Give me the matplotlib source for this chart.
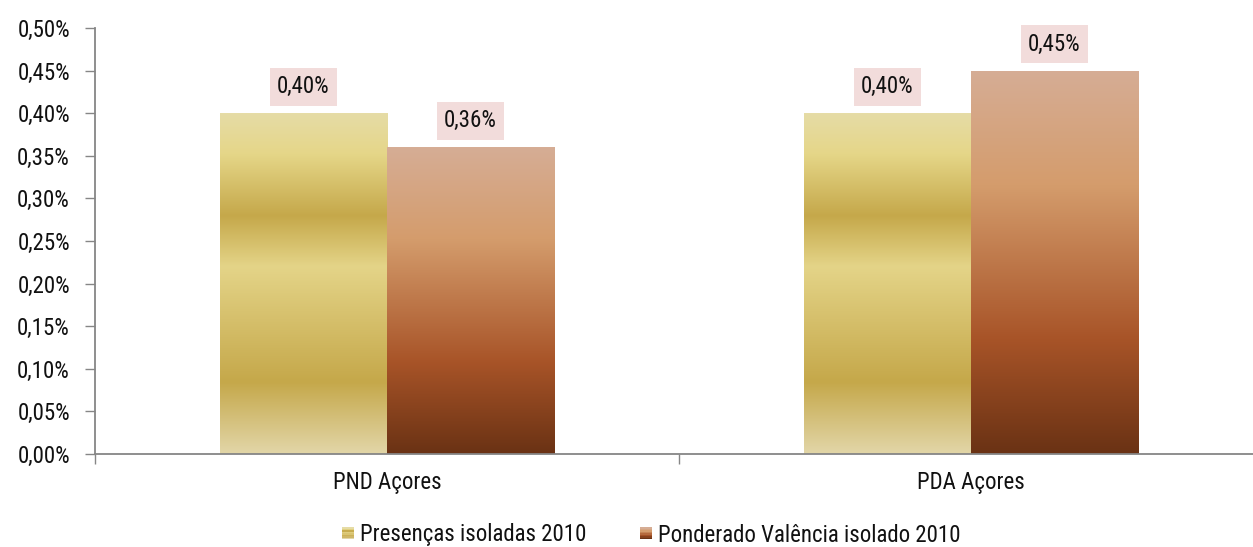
import matplotlib
matplotlib.use("Agg")
import matplotlib.pyplot as plt
import numpy as np
from matplotlib.colors import LinearSegmentedColormap
from matplotlib.patches import Rectangle
from matplotlib.legend_handler import HandlerBase
from matplotlib.ticker import FixedLocator, FuncFormatter

plt.rcParams['font.family'] = ['Roboto Condensed', 'Liberation Sans Narrow', 'DejaVu Sans']

categories = ["PND Açores", "PDA Açores"]
series_names = ["Presenças isoladas 2010", "Ponderado Valência isolado 2010"]
presencas = [0.40, 0.40]
ponderado = [0.36, 0.45]
values = [presencas, ponderado]

gold_stops = [(0.0, "#e6dca6"), (0.12, "#e5d688"), (0.30, "#c5a84a"), (0.45, "#e4d488"),
              (0.79, "#c5a84a"), (1.0, "#e2d6a8")]
brown_stops = [(0.0, "#d6ad95"), (0.30, "#d49c6c"), (0.70, "#a85428"), (1.0, "#6a3214")]
cmaps = [LinearSegmentedColormap.from_list("gold", gold_stops),
         LinearSegmentedColormap.from_list("brown", brown_stops)]

FS = 16.5
TXT = "#111111"

fig = plt.figure(figsize=(12.53, 5.47), dpi=100)
ax = fig.add_axes([95/1253, 1-454/547, (1263-95)/1253, (454-28)/547])

x = np.arange(len(categories))
width = 0.286
offsets = [-width/2, width/2]
grad = np.linspace(0, 1, 256).reshape(-1, 1)

for s in range(2):
    bars = ax.bar(x + offsets[s], values[s], width, color="none", edgecolor="none")
    for b, v in zip(bars, values[s]):
        x0 = b.get_x(); w = b.get_width(); h = b.get_height()
        im = ax.imshow(grad, cmap=cmaps[s], aspect="auto",
                       extent=[x0, x0 + w, 0, h], origin="upper", zorder=2,
                       interpolation="bilinear")
        im.set_clip_path(b)
        ax.text(x0 + w/2, h + 0.0175, f"{v:.2f}%".replace(".", ","),
                ha="center", va="bottom", fontsize=FS, color=TXT, zorder=4,
                bbox=dict(boxstyle="square,pad=0.32", facecolor="#f2dcdb", edgecolor="none"))

ax.set_xlim(-0.5, len(categories) - 0.5)
ax.set_ylim(0, 0.50)
ax.yaxis.set_major_locator(FixedLocator(np.arange(0, 0.501, 0.05)))
ax.yaxis.set_major_formatter(FuncFormatter(lambda v, p: f"{v:.2f}%".replace(".", ",")))
ax.set_xticks(x)
ax.set_xticklabels(categories)
ax.xaxis.set_minor_locator(FixedLocator([-0.5, 0.5, 1.5]))
ax.tick_params(axis="x", which="major", length=0, pad=12, labelsize=FS, labelcolor=TXT)
ax.tick_params(axis="x", which="minor", length=7, color="#868686", width=1)
ax.tick_params(axis="y", length=7, color="#868686", width=1, labelsize=FS, pad=11, labelcolor=TXT)

for sp in ["top", "right"]:
    ax.spines[sp].set_visible(False)
for sp in ["left", "bottom"]:
    ax.spines[sp].set_color("#868686")
    ax.spines[sp].set_linewidth(1.3)


class GradHandler(HandlerBase):
    def __init__(self, cmap):
        super().__init__()
        self.cmap = cmap

    def create_artists(self, legend, orig_handle, xdescent, ydescent, width, height, fontsize, trans):
        n = 8
        size = 12 * 72 / 100
        x0 = width - size
        y0 = (height - size) / 2
        arts = []
        for i in range(n):
            c = self.cmap(i / (n - 1))
            r = Rectangle((x0 - xdescent, y0 - ydescent + size * (n - 1 - i) / n), size, size / n,
                          facecolor=c, edgecolor="none", transform=trans)
            arts.append(r)
        return arts


h1 = Rectangle((0, 0), 1, 1)
h2 = Rectangle((0, 0), 1, 1)
leg = fig.legend([h1, h2], series_names, loc="center", bbox_to_anchor=(0.5195, 1 - 535/547),
                 ncol=2, frameon=False, fontsize=FS, handlelength=0.55, handleheight=0.6,
                 handletextpad=0.25, columnspacing=2.35,
                 handler_map={h1: GradHandler(cmaps[0]), h2: GradHandler(cmaps[1])})
for t in leg.get_texts():
    t.set_color(TXT)

fig.savefig("out.png", dpi=100)
